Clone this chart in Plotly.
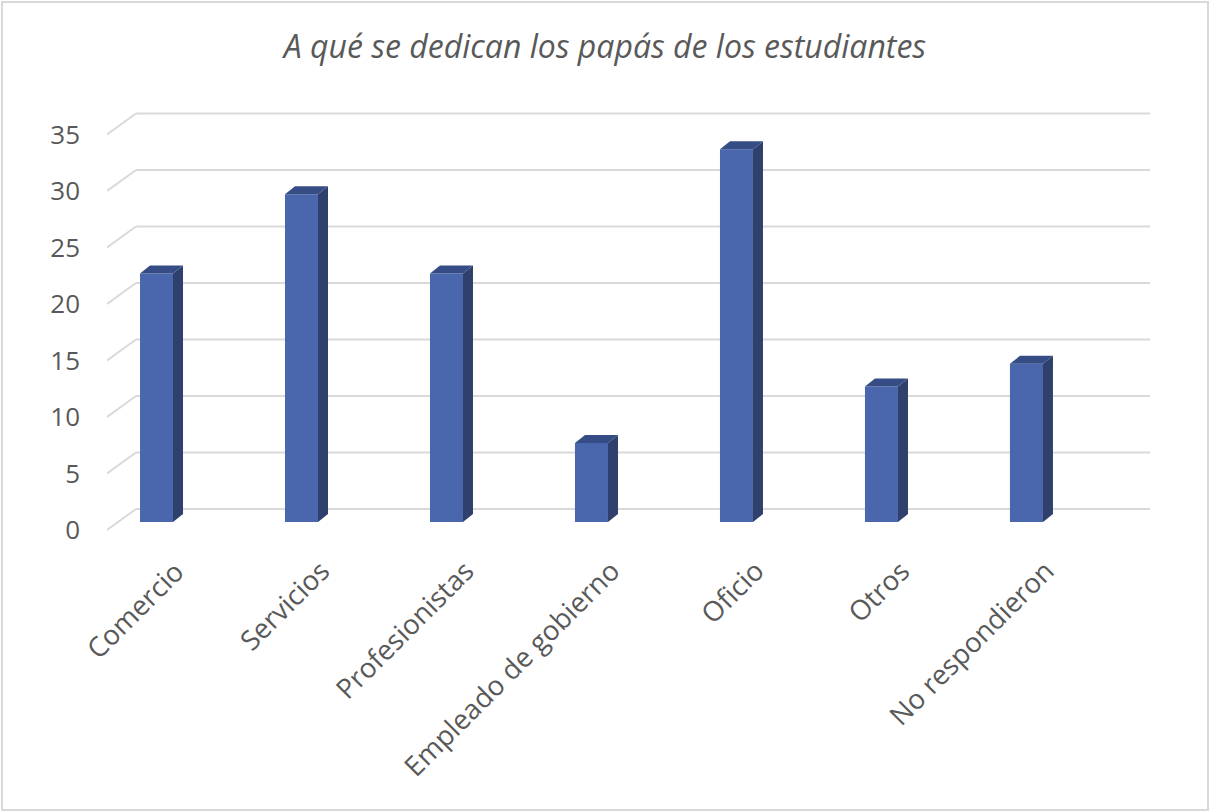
import plotly.graph_objects as go

# data
categories = ["Comercio", "Servicios", "Profesionistas", "Empleado de gobierno",
              "Oficio", "Otros", "No respondieron"]
values = [22, 29, 22, 7, 33, 12, 14]
tick_values = [0, 5, 10, 15, 20, 25, 30, 35]

title_text = "A qué se dedican los papás de los estudiantes"

# colours
front_col = "#4a66ac"
side_col = "#2f406d"
top_col = "#364c85"
grid_col = "#d9d9d9"
text_col = "#595959"

# fake 3d geometry, in axis units (1 x unit = 145px, 1 y unit = 11.3px)
bar_w = 0.2276
depth_x = 0.069
depth_y = 0.71
wall_front_y = -0.708
wall_back_y = 1.15
wall_front_x = -0.3414
wall_back_x = -0.1414
wall_right_x = 6.852

fig = go.Figure()

# back wall gridlines with the little floor diagonal on the left (kept under the bars)
for t in tick_values:
    fig.add_shape(type="line", xref="x", yref="y", layer="below",
                  x0=wall_front_x, y0=t + wall_front_y, x1=wall_back_x, y1=t + wall_back_y,
                  line=dict(color=grid_col, width=2))
    fig.add_shape(type="line", xref="x", yref="y", layer="below",
                  x0=wall_back_x, y0=t + wall_back_y, x1=wall_right_x, y1=t + wall_back_y,
                  line=dict(color=grid_col, width=2))

xs = list(range(len(categories)))
fig.add_trace(go.Bar(x=xs, y=values, width=bar_w, marker=dict(color=front_col, line=dict(width=0)),
                     showlegend=False, hovertext=categories))

# side and top faces of each bar
for i, v in zip(xs, values):
    l = i - bar_w / 2
    r = i + bar_w / 2
    fig.add_trace(go.Scatter(x=[r, r + depth_x, r + depth_x, r, r],
                             y=[0, depth_y, v + depth_y, v, 0],
                             fill="toself", fillcolor=side_col, mode="lines",
                             line=dict(width=0, color=side_col), hoverinfo="skip", showlegend=False))
    fig.add_trace(go.Scatter(x=[l, l + depth_x, r + depth_x, r, l],
                             y=[v, v + depth_y, v + depth_y, v, v],
                             fill="toself", fillcolor=top_col, mode="lines",
                             line=dict(width=0, color=top_col), hoverinfo="skip", showlegend=False))

# category labels, rotated
for i, c in zip(xs, categories):
    fig.add_annotation(x=i + 0.26, y=-0.022, xref="x", yref="paper", text=c, showarrow=False,
                       textangle=-45, xanchor="right", yanchor="top",
                       font=dict(family="Open Sans", size=27.5, color=text_col))

W = 1210
H = 812
ml, mr, mt, mb = 107, 60, 100, 272
pw = W - ml - mr
ph = H - mt - mb

# chart border
fig.add_shape(type="rect", xref="paper", yref="paper",
              x0=(2 - ml) / pw, x1=(W - 2 - ml) / pw,
              y0=(mt + ph - (H - 2)) / ph, y1=(mt + ph - 2) / ph,
              line=dict(color=grid_col, width=2), fillcolor="rgba(0,0,0,0)")

fig.update_layout(
    width=W, height=H,
    margin=dict(l=ml, r=mr, t=mt, b=mb),
    plot_bgcolor="white", paper_bgcolor="white",
    title=dict(text=title_text, x=0.5, xanchor="center", y=1 - 47 / H, yanchor="middle",
               font=dict(family="Open Sans", size=32, color=text_col, style="italic")),
    xaxis=dict(range=[wall_front_x, wall_right_x], showgrid=False, zeroline=False,
               showticklabels=False, showline=False),
    yaxis=dict(range=[-1.59, 37.35], showgrid=False, zeroline=False, showline=False,
               tickvals=[t + wall_front_y for t in tick_values],
               ticktext=[str(t) for t in tick_values],
               ticklabelstandoff=26,
               tickfont=dict(family="Open Sans", size=26, color=text_col)),
    font=dict(family="Open Sans", color=text_col),
)

fig.write_html("out.html", config={"displayModeBar": False},
               post_script="document.body.style.margin='0';")
